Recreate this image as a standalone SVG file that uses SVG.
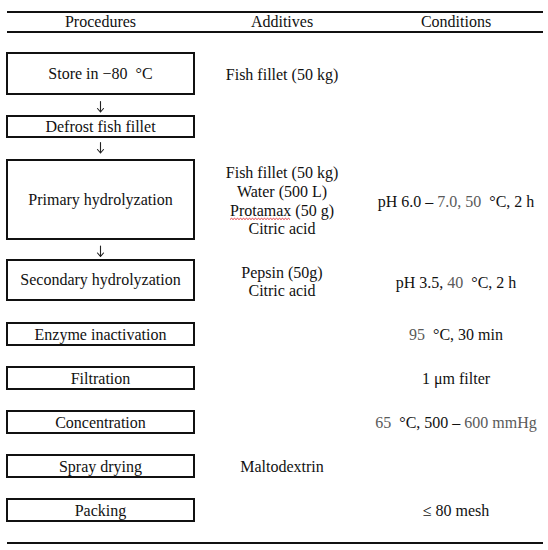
<svg xmlns="http://www.w3.org/2000/svg" width="548" height="550" viewBox="0 0 548 550">
<style>
  text { font-family: "Liberation Serif", "DejaVu Serif", serif; font-size: 16px; fill: #111; text-anchor: middle; }
  .box { fill: #fff; stroke: #111; stroke-width: 2; }
  .rule { stroke: #111; stroke-width: 2; }
  .g { fill: #5a5a5a; }
  .arrow { fill: none; stroke: #222; stroke-width: 1.1; stroke-linecap: round; stroke-linejoin: round; }
  .squiggle { fill: none; stroke: #e0202a; stroke-width: 0.9; }
</style>
<rect width="548" height="550" fill="#fff"/>
<g id="table-rules">
  <line class="rule" x1="7" y1="12" x2="543" y2="12"/>
  <line class="rule" x1="7" y1="32" x2="543" y2="32"/>
  <line class="rule" x1="7" y1="543" x2="543" y2="543"/>
</g>
<g id="headers">
  <text x="100.5" y="27">Procedures</text>
  <text x="282" y="27">Additives</text>
  <text x="456" y="27">Conditions</text>
</g>
<g id="connectors">
  <path class="arrow" d="M100.5 101.5 V112 M97.5 108.5 L100.5 112 L103.5 108.5"/>
  <path class="arrow" d="M100.5 142.5 V153 M97.5 149.5 L100.5 153 L103.5 149.5"/>
  <path class="arrow" d="M100.5 246 V256.5 M97.5 253 L100.5 256.5 L103.5 253"/>
</g>
<g id="n-store">
  <rect class="box" x="7" y="53" width="187" height="41"/>
  <text x="100.5" y="79" xml:space="preserve">Store in −80  °C</text>
</g>
<g id="n-defrost">
  <rect class="box" x="7" y="116" width="187" height="21"/>
  <text x="100.5" y="132">Defrost fish fillet</text>
</g>
<g id="n-primary">
  <rect class="box" x="7" y="160" width="187" height="79"/>
  <text x="100.5" y="205">Primary hydrolyzation</text>
</g>
<g id="n-secondary">
  <rect class="box" x="7" y="260" width="187" height="40"/>
  <text x="100.5" y="285">Secondary hydrolyzation</text>
</g>
<g id="n-enzyme">
  <rect class="box" x="7" y="323" width="187" height="22"/>
  <text x="100.5" y="339.5">Enzyme inactivation</text>
</g>
<g id="n-filtration">
  <rect class="box" x="7" y="367" width="187" height="22"/>
  <text x="100.5" y="383.5">Filtration</text>
</g>
<g id="n-concentration">
  <rect class="box" x="7" y="411" width="187" height="22"/>
  <text x="100.5" y="427.5">Concentration</text>
</g>
<g id="n-spray">
  <rect class="box" x="7" y="455" width="187" height="22"/>
  <text x="100.5" y="471.5">Spray drying</text>
</g>
<g id="n-packing">
  <rect class="box" x="7" y="499" width="187" height="22"/>
  <text x="100.5" y="516">Packing</text>
</g>
<g id="additives">
  <text x="282" y="80">Fish fillet (50 kg)</text>
  <text x="282" y="178">Fish fillet (50 kg)</text>
  <text x="282" y="197">Water (500 L)</text>
  <text x="282" y="216">Protamax (50 g)</text>
  <path class="squiggle" d="M230 219.5 l1.5 -1.2 l1.5 1.2 l1.5 -1.2 l1.5 1.2 l1.5 -1.2 l1.5 1.2 l1.5 -1.2 l1.5 1.2 l1.5 -1.2 l1.5 1.2 l1.5 -1.2 l1.5 1.2 l1.5 -1.2 l1.5 1.2 l1.5 -1.2 l1.5 1.2 l1.5 -1.2 l1.5 1.2 l1.5 -1.2 l1.5 1.2 l1.5 -1.2 l1.5 1.2 l1.5 -1.2 l1.5 1.2 l1.5 -1.2 l1.5 1.2 l1.5 -1.2 l1.5 1.2 l1.5 -1.2 l1.5 1.2 l1.5 -1.2 l1.5 1.2 l1.5 -1.2 l1.5 1.2 l1.5 -1.2 l1.5 1.2 l1.5 -1.2 l1.5 1.2 l1.5 -1.2 l1.5 1.2"/>
  <text x="282" y="234">Citric acid</text>
  <text x="282" y="278">Pepsin (50g)</text>
  <text x="282" y="296">Citric acid</text>
  <text x="282" y="472">Maltodextrin</text>
</g>
<g id="conditions">
  <text x="456" y="207" xml:space="preserve">pH 6.0 – <tspan class="g">7.0, 50</tspan>  °C, 2 h</text>
  <text x="456" y="288" xml:space="preserve">pH 3.5, <tspan class="g">40</tspan>  °C, 2 h</text>
  <text x="456" y="339.5" xml:space="preserve"><tspan class="g">95</tspan>  °C, 30 min</text>
  <text x="456" y="383.5">1 μm filter</text>
  <text x="456" y="427.5" xml:space="preserve"><tspan class="g">65</tspan>  °C, 500 – <tspan class="g">600 mmHg</tspan></text>
  <text x="456" y="516">≤ 80 mesh</text>
</g>
</svg>
